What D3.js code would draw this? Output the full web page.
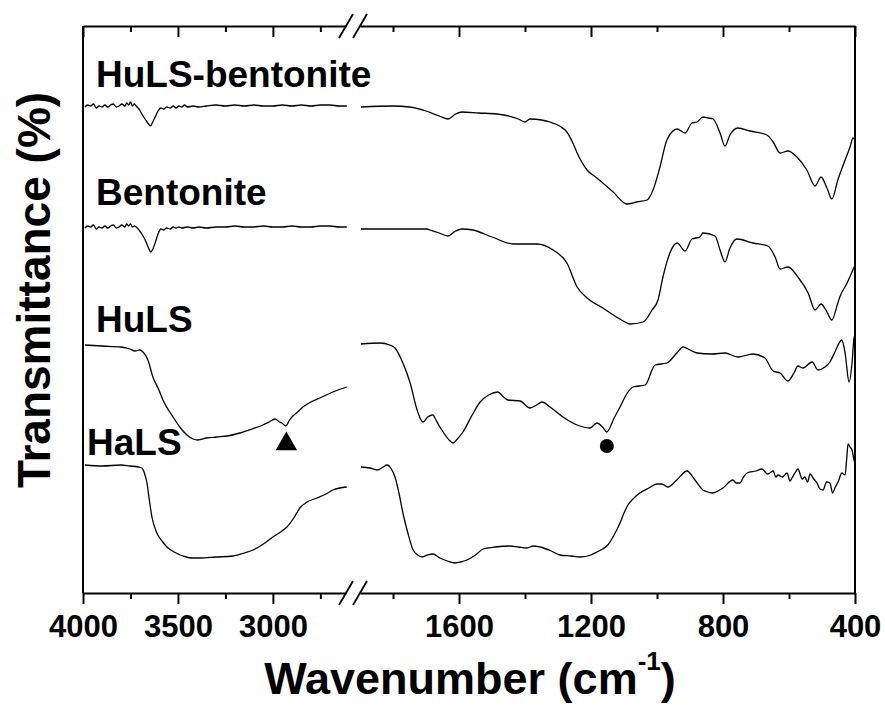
<!DOCTYPE html>
<html>
<head>
<meta charset="UTF-8">
<title>FTIR spectra</title>
<script src="https://d3js.org/d3.v7.min.js"></script>
<style>
  body { margin: 0; background: #fff; }
  svg text { font-family: "Liberation Sans", Arial, sans-serif; font-weight: bold; fill: #000; }
</style>
</head>
<body>
<svg id="chart" width="885" height="707"></svg>
<script>

// DATA  (wavenumber in cm-1, transmittance in offset a.u.)

var hulsBentLeft = [[3990,486],[3975,488],[3960,487],[3945,489],[3930,485],[3915,487],[3900,486],[3885,488],[3870,486],[3855,488],[3840,489],[3825,486],[3810,487],[3795,489],[3780,487],[3770,490],[3760,488],[3750,491],[3740,487],[3730,489],[3720,487],[3705,484],[3690,479],[3670,473],[3655,469],[3645,467],[3635,470],[3620,476],[3605,482],[3590,485],[3575,484],[3560,486],[3540,485],[3525,487],[3510,485],[3495,487],[3480,486],[3465,488],[3450,486],[3420,487],[3390,486],[3350,487],[3300,488],[3250,487],[3200,488],[3150,487],[3100,488],[3050,487],[3000,487],[2950,488],[2900,487],[2850,488],[2800,487],[2750,488],[2700,488],[2650,487],[2611,487]];
var hulsBentRight = [[1897,486],[1800,487],[1750,486],[1700,482],[1660,477],[1633,474],[1610,479],[1591,481],[1540,480],[1485,479],[1420,474],[1400,471],[1385,474],[1350,473],[1324,471],[1295,467],[1273,461],[1255,450],[1242,440],[1212,423],[1182,415],[1133,401],[1091,389],[1061,391],[1030,393],[1012,403],[991,426],[970,453],[939,464],[915,460],[894,470],[879,471],[861,476],[845,475],[830,474],[809,460],[794,447],[779,458],[755,465],[718,462],[667,458],[648,451],[627,440],[603,442],[576,436],[546,423],[521,407],[503,416],[485,405],[470,394],[452,413],[430,433],[415,446],[406,455],[400,453]];

var bentLeft = [[3990,365],[3975,367],[3960,366],[3945,368],[3930,364],[3915,366],[3900,365],[3885,367],[3870,365],[3855,367],[3840,368],[3825,365],[3810,366],[3795,368],[3780,366],[3770,369],[3760,367],[3750,369],[3740,366],[3730,367],[3720,366],[3705,363],[3690,359],[3670,352],[3655,345],[3643,341],[3632,344],[3620,350],[3605,359],[3590,364],[3575,363],[3560,365],[3540,364],[3525,366],[3510,365],[3495,366],[3480,365],[3450,366],[3420,365],[3390,366],[3350,365],[3300,366],[3250,366],[3200,367],[3150,366],[3100,366],[3050,367],[3000,366],[2950,366],[2900,367],[2850,366],[2800,366],[2750,367],[2700,367],[2650,366],[2611,366]];
var bentRight = [[1897,364],[1800,364],[1697,364],[1688,363],[1660,360],[1633,357],[1610,362],[1591,364],[1558,363],[1500,356],[1436,349],[1364,349],[1315,343],[1273,330],[1242,306],[1212,295],[1164,285],[1118,275],[1091,270],[1082,269],[1042,271],[1015,283],[997,293],[982,316],[961,340],[939,350],[915,342],[894,354],[870,356],[861,360],[824,357],[809,343],[794,331],[779,345],[758,354],[709,350],[664,347],[642,336],[627,324],[603,326],[573,316],[542,300],[521,283],[503,289],[485,281],[470,273],[452,290],[446,296],[424,310],[400,328]];

var hulsLeft = [[3990,248],[3900,247],[3800,246],[3753,244],[3726,242],[3700,243],[3684,241],[3658,233],[3632,216],[3600,203],[3579,193],[3526,176],[3490,166],[3453,158],[3420,154],[3395,153],[3350,155],[3295,156],[3240,157],[3174,160],[3110,164],[3053,168],[3020,171],[2989,174],[2965,171],[2953,170],[2932,167],[2915,172],[2900,176],[2870,181],[2842,186],[2800,191],[2753,195],[2684,201],[2611,206]];
var hulsRight = [[1897,249],[1839,250],[1810,248],[1794,245],[1770,230],[1748,210],[1727,183],[1709,171],[1695,176],[1679,178],[1673,175],[1660,167],[1648,161],[1630,153],[1618,150],[1605,154],[1588,161],[1560,178],[1536,191],[1510,198],[1482,201],[1465,196],[1452,193],[1415,192],[1385,185],[1365,188],[1349,191],[1324,186],[1285,176],[1242,168],[1203,165],[1182,170],[1165,166],[1152,161],[1130,175],[1112,186],[1090,200],[1073,206],[1036,208],[1006,228],[970,230],[940,240],[921,246],[900,243],[879,240],[833,239],[794,240],[755,236],[709,239],[673,235],[648,222],[627,220],[603,212],[585,220],[573,227],[558,225],[530,231],[512,223],[491,226],[476,231],[461,241],[440,253],[430,240],[418,211],[409,230],[403,255],[400,258]];

var halsLeft = [[3990,128],[3900,127],[3800,128],[3753,127],[3710,126],[3690,125],[3675,119],[3663,110],[3650,92],[3637,76],[3611,60],[3580,51],[3558,46],[3520,41],[3474,37],[3430,35],[3384,35],[3300,36],[3211,37],[3150,40],[3105,43],[3050,49],[3000,56],[2960,61],[2926,66],[2890,75],[2858,85],[2820,91],[2768,95],[2720,99],[2684,103],[2611,106]];
var halsRight = [[1897,126],[1870,125],[1848,123],[1830,126],[1818,128],[1805,124],[1794,116],[1782,100],[1770,80],[1755,60],[1739,43],[1725,38],[1712,36],[1695,38],[1679,39],[1658,35],[1635,32],[1612,30],[1595,31],[1576,33],[1550,38],[1527,44],[1490,46],[1445,47],[1420,46],[1394,45],[1375,47],[1355,46],[1320,42],[1294,38],[1260,37],[1233,36],[1200,38],[1182,41],[1165,44],[1149,48],[1130,58],[1112,70],[1100,80],[1088,88],[1070,95],[1052,100],[1025,105],[1000,109],[985,109],[967,106],[940,113],[909,122],[885,113],[861,103],[845,101],[833,100],[815,102],[800,105],[770,113],[760,110],[749,110],[738,116],[727,120],[700,122],[682,124],[665,119],[658,120],[648,122],[640,116],[633,118],[620,116],[606,120],[597,112],[591,115],[580,121],[573,124],[560,114],[552,116],[544,111],[536,119],[525,114],[515,110],[506,104],[497,103],[486,111],[476,110],[468,100],[461,105],[450,112],[440,120],[435,119],[430,118],[425,135],[421,149],[415,146],[409,143],[403,133],[400,130]];

var seriesNames = ["HuLS-bentonite", "Bentonite", "HuLS", "HaLS"];
var leftSegments = [hulsBentLeft, bentLeft, hulsLeft, halsLeft];
var rightSegments = [hulsBentRight, bentRight, hulsRight, halsRight];
var labelValues = [506, 388, 261, 138];   // where the labels sit, same units as the spectra

var markTriangle = [2929, 149];   // CH stretch band of HuLS
var markCircle = [1152, 147];     // band of HuLS around 1150

var leftMajor = [4000, 3500, 3000], leftMinor = [3750, 3250, 2750];
var rightMajor = [1600, 1200, 800, 400], rightMinor = [1800, 1400, 1000, 600];


// SETUP

var svg = d3.select("#chart"),
  plotLeft = 83, plotRight = 855, plotTop = 26, plotBottom = 593,
  breakL = 346, breakR = 360;

var xL = d3.scaleLinear().domain([4000, 2615]).range([plotLeft, breakL]);
var xR = d3.scaleLinear().domain([1900, 400]).range([breakR, plotRight]);
var y = d3.scaleLinear().domain([0, 567]).range([plotBottom, plotTop]);

var lineL = d3.line().x(function (d) { return xL(d[0]); }).y(function (d) { return y(d[1]); }).curve(d3.curveMonotoneX);
var lineR = d3.line().x(function (d) { return xR(d[0]); }).y(function (d) { return y(d[1]); }).curve(d3.curveMonotoneX);


// SPECTRA

var curves = svg.append("g").attr("fill", "none").attr("stroke", "#000").attr("stroke-width", 1.3);

curves.selectAll(".left").data(leftSegments).enter().append("path")
  .attr("class", "left").attr("d", lineL);

curves.selectAll(".right").data(rightSegments).enter().append("path")
  .attr("class", "right").attr("d", lineR);


// AXES

function addAxis(scale, ypos, major, minor, labels) {
  var gMaj = svg.append("g").attr("transform", "translate(0," + ypos + ")")
    .call(d3.axisBottom(scale).tickValues(major).tickSize(11).tickSizeOuter(0).tickPadding(11)
      .tickFormat(labels ? d3.format("d") : ""));
  gMaj.select(".domain").attr("stroke-width", 2);
  gMaj.selectAll(".tick line").attr("stroke-width", 2);
  gMaj.selectAll(".tick text").style("font-size", "31px").attr("dy", "0.71em");

  var gMin = svg.append("g").attr("transform", "translate(0," + ypos + ")")
    .call(d3.axisBottom(scale).tickValues(minor).tickSize(6).tickFormat(""));
  gMin.select(".domain").remove();
  gMin.selectAll(".tick line").attr("stroke-width", 2);
}

addAxis(xL, plotBottom, leftMajor, leftMinor, true);
addAxis(xR, plotBottom, rightMajor, rightMinor, true);
addAxis(xL, plotTop, leftMajor, leftMinor, false);
addAxis(xR, plotTop, rightMajor, rightMinor, false);

// side frame lines
svg.append("line").attr("x1", plotLeft).attr("x2", plotLeft).attr("y1", plotTop).attr("y2", plotBottom)
  .attr("stroke", "#000").attr("stroke-width", 2);
svg.append("line").attr("x1", plotRight).attr("x2", plotRight).attr("y1", plotTop).attr("y2", plotBottom)
  .attr("stroke", "#000").attr("stroke-width", 2);

// break marks  //
[plotTop, plotBottom].forEach(function (yy) {
  [breakL, breakR].forEach(function (xx) {
    svg.append("line")
      .attr("x1", xx - 7).attr("y1", yy + 12).attr("x2", xx + 7).attr("y2", yy - 12)
      .attr("stroke", "#000").attr("stroke-width", 1.8);
  });
});


// MARKERS

svg.append("path")
  .attr("d", d3.symbol().type(d3.symbolTriangle).size(200))
  .attr("transform", "translate(" + xL(markTriangle[0]) + "," + y(markTriangle[1]) + ")");
svg.append("path")
  .attr("d", d3.symbol().type(d3.symbolCircle).size(154))
  .attr("transform", "translate(" + xR(markCircle[0]) + "," + y(markCircle[1]) + ")");


// LABELS

svg.selectAll(".series-label").data(seriesNames).enter().append("text")
  .attr("class", "series-label")
  .attr("x", function (d, i) { return i == 3 ? 87 : 96; })
  .attr("y", function (d, i) { return y(labelValues[i]); })
  .style("font-size", "37px")
  .text(function (d) { return d; });

var xt = svg.append("text")
  .attr("x", 470).attr("y", 694)
  .attr("text-anchor", "middle")
  .style("font-size", "45px");
xt.append("tspan").text("Wavenumber (cm");
xt.append("tspan").attr("dy", -24).style("font-size", "26px").text("-1");
xt.append("tspan").attr("dy", 24).text(")");

svg.append("text")
  .attr("transform", "translate(50,290) rotate(-90)")
  .attr("text-anchor", "middle")
  .style("font-size", "46px")
  .text("Transmittance (%)");

</script>
</body>
</html>
